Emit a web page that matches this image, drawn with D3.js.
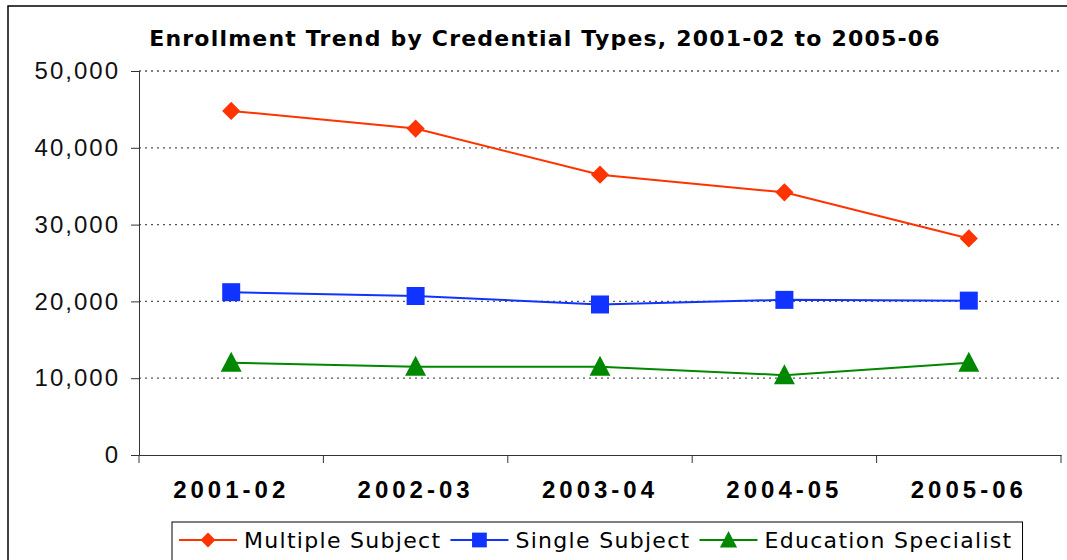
<!DOCTYPE html>
<html>
<head>
<meta charset="utf-8">
<script src="https://cdn.jsdelivr.net/npm/d3@7"></script>
<style>
  body { margin: 0; background: #fff; }
  svg { display: block; font-family: "DejaVu Sans", Verdana, sans-serif; }
</style>
</head>
<body>
<div id="chart"></div>
<script>
// data
var years = ['2001-02', '2002-03', '2003-04', '2004-05', '2005-06'];
var multipleSubject = [44800, 42500, 36500, 34200, 28200];
var singleSubject = [21200, 20700, 19600, 20200, 20100];
var educationSpecialist = [12000, 11500, 11500, 10400, 12000];
var yTicks = [0, 10000, 20000, 30000, 40000, 50000];

var series = [
  { name: 'Multiple Subject', values: multipleSubject, color: '#ff3300', shape: 'diamond' },
  { name: 'Single Subject', values: singleSubject, color: '#1133ff', shape: 'square' },
  { name: 'Education Specialist', values: educationSpecialist, color: '#008800', shape: 'triangle' }
];

var width = 1067, height = 560;
var plotLeft = 139, plotRight = 1061, plotTop = 71, plotBottom = 455;

var svg = d3.select('#chart').append('svg')
  .attr('width', width)
  .attr('height', height);

// outer frame
svg.append('rect')
  .attr('x', 8).attr('y', 6)
  .attr('width', width + 10).attr('height', height + 10)
  .attr('fill', 'none').attr('stroke', '#000').attr('stroke-width', 1.5);

// title
svg.append('text')
  .attr('x', 545).attr('y', 46)
  .attr('text-anchor', 'middle')
  .style('font-size', '22px').style('font-weight', 'bold')
  .style('letter-spacing', '1.2px')
  .text('Enrollment Trend by Credential Types, 2001-02 to 2005-06');

var x = d3.scaleBand().domain(years).range([plotLeft, plotRight]);
var y = d3.scaleLinear().domain([0, 50000]).range([plotBottom, plotTop]);

// dotted gridlines
svg.append('g').selectAll('line')
  .data(yTicks.filter(function (d) { return d > 0; }))
  .enter().append('line')
  .attr('x1', plotLeft).attr('x2', plotRight)
  .attr('y1', function (d) { return y(d); })
  .attr('y2', function (d) { return y(d); })
  .attr('stroke', '#555').attr('stroke-width', 1.3)
  .attr('stroke-dasharray', '2,4');

// y axis
var yAxis = svg.append('g')
  .attr('transform', 'translate(' + plotLeft + ',0)')
  .call(d3.axisLeft(y).tickValues(yTicks).tickSize(8).tickPadding(11)
    .tickFormat(d3.format(',')));
yAxis.selectAll('text').style('font-size', '24px').style('fill', '#111')
  .style('letter-spacing', '2px');
yAxis.selectAll('line, path').attr('stroke', '#333');

// x axis
var xAxis = svg.append('g')
  .attr('transform', 'translate(0,' + plotBottom + ')')
  .call(d3.axisBottom(x).tickSize(0).tickPadding(26));
xAxis.selectAll('text').style('font-size', '24px').style('font-weight', 'bold')
  .style('fill', '#000').style('letter-spacing', '4px');
xAxis.select('path').attr('stroke', '#333');

// category divider ticks
svg.append('g').selectAll('line')
  .data(d3.range(years.length + 1))
  .enter().append('line')
  .attr('x1', function (i) { return plotLeft + i * x.step(); })
  .attr('x2', function (i) { return plotLeft + i * x.step(); })
  .attr('y1', plotBottom).attr('y2', plotBottom + 8)
  .attr('stroke', '#333');

var half = x.bandwidth() / 2;
var line = d3.line()
  .x(function (d, i) { return x(years[i]) + half; })
  .y(function (d) { return y(d); });

function marker(shape) {
  if (shape === 'diamond') return d3.symbol().type(d3.symbolDiamond2).size(210)();
  if (shape === 'square') return d3.symbol().type(d3.symbolSquare).size(324)();
  return 'M0,-11L10.5,9L-10.5,9Z';
}

series.forEach(function (s) {
  svg.append('path')
    .datum(s.values)
    .attr('d', line)
    .attr('fill', 'none')
    .attr('stroke', s.color)
    .attr('stroke-width', 2);

  svg.append('g').selectAll('path')
    .data(s.values)
    .enter().append('path')
    .attr('d', marker(s.shape))
    .attr('transform', function (d, i) {
      return 'translate(' + (x(years[i]) + half) + ',' + y(d) + ')';
    })
    .attr('fill', s.color);
});

// legend
var legend = svg.append('g');
var lx = 179, ly = 540;
var box = legend.append('rect')
  .attr('x', 172).attr('y', 522)
  .attr('height', 40)
  .attr('fill', '#fff').attr('stroke', '#000').attr('stroke-width', 1);

series.forEach(function (s) {
  legend.append('line')
    .attr('x1', lx).attr('x2', lx + 58)
    .attr('y1', ly).attr('y2', ly)
    .attr('stroke', s.color).attr('stroke-width', 2);
  legend.append('path')
    .attr('d', marker(s.shape))
    .attr('transform', 'translate(' + (lx + 29) + ',' + ly + ') scale(0.82)')
    .attr('fill', s.color);
  var t = legend.append('text')
    .attr('x', lx + 65).attr('y', ly + 8)
    .style('font-size', '22px')
    .style('letter-spacing', '1.3px')
    .text(s.name);
  lx = lx + 65 + t.node().getComputedTextLength() + 9;
});
box.attr('width', lx - 172 + 1);
</script>
</body>
</html>
